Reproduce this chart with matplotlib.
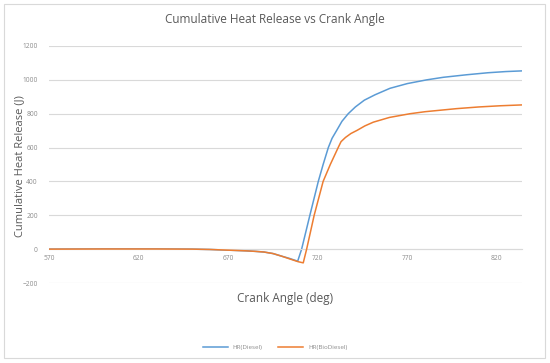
"""Cumulative heat release vs crank angle: diesel vs biodiesel."""

import matplotlib

matplotlib.use("Agg")
import matplotlib.pyplot as plt
from matplotlib.patches import Rectangle

# crank angle (deg) / cumulative heat release (J)
DIESEL_CA = [570, 600, 630, 650, 660, 670, 680, 685, 690, 695, 700, 704,
             708.8, 711, 715.6, 720.3, 723, 725.9, 728, 730.5, 733.5, 737,
             741, 746, 752, 760.3, 770, 780.8, 790, 803, 815, 825, 834]
DIESEL_HR = [0, 1, 1, 0, -2, -6, -10, -13, -17, -26, -42, -54,
             -71, 0, 200, 400, 500, 600, 655, 700, 755, 800,
             840, 880, 912, 950, 978, 1000, 1015, 1030, 1042, 1049, 1053]

BIO_CA = [570, 600, 630, 650, 660, 670, 680, 685, 690, 695, 700, 705,
          709, 711.9, 713.8, 718, 723, 727, 731.4, 733, 735.5, 738.5,
          742, 746.3, 751, 760, 771.5, 780, 797.5, 810, 822, 834]
BIO_HR = [0, 1, 1, 0, -2, -6, -10, -13, -17, -26, -42, -60,
          -74, -81, 0, 200, 400, 500, 600, 635, 660, 683,
          702, 728, 750, 778, 800, 812, 830, 840, 847, 852]

X_TICKS = [570, 620, 670, 720, 770, 820]
Y_TICKS = [-200, 0, 200, 400, 600, 800, 1000, 1200]

BLUE = "#5b9bd5"
ORANGE = "#ed7d31"
GRID = "#d9d9d9"
TEXT = "#595959"
TICK = "#8c8c8c"

plt.rcParams["font.family"] = ["Open Sans", "DejaVu Sans"]

fig = plt.figure(figsize=(5.5, 3.63), dpi=100)
fig.patch.set_facecolor("white")
fig.patches.append(Rectangle((4 / 550, 1 - 358 / 363), 541 / 550, 354 / 363,
                             transform=fig.transFigure, fill=False,
                             edgecolor=GRID, linewidth=0.8))

ax = fig.add_axes([49 / 550, 1 - 283 / 363, (522 - 49) / 550, (283 - 46) / 363])
ax.set_xlim(570, 834)
ax.set_ylim(-200, 1200)
ax.set_yticks(Y_TICKS)
ax.set_xticks(X_TICKS)
ax.grid(axis="y", color=GRID, linewidth=0.8)
ax.set_axisbelow(True)
for name in ("top", "right", "left"):
    ax.spines[name].set_visible(False)
ax.spines["bottom"].set_position(("data", 0))
ax.spines["bottom"].set_color(GRID)
ax.spines["bottom"].set_linewidth(0.8)
ax.tick_params(length=0, labelsize=4.8, labelcolor=TICK)
ax.tick_params(axis="x", pad=4)
ax.tick_params(axis="y", pad=8)

ax.plot(DIESEL_CA, DIESEL_HR, color=BLUE, linewidth=1.1, label="HR(Diesel)", zorder=2)
ax.plot(BIO_CA, BIO_HR, color=ORANGE, linewidth=1.1, label="HR(BioDiesel)", zorder=3)

fig.text(20 / 550, 1 - 166 / 363, "Cumulative Heat Release (J)", rotation=90,
         ha="center", va="center", color=TEXT, fontsize=8)
ax.text(0.5, -0.04, "Crank Angle (deg)", transform=ax.transAxes, ha="center",
        va="top", color=TEXT, fontsize=8.5)
fig.text(0.5, 1 - 19 / 363, "Cumulative Heat Release vs Crank Angle",
         ha="center", va="center", color=TEXT, fontsize=8.5)

leg = fig.legend(loc="center", bbox_to_anchor=(0.5, 1 - 347 / 363), ncol=2,
                 frameon=False, fontsize=4.5, handlelength=4, columnspacing=2.5)
for t in leg.get_texts():
    t.set_color(TICK)

fig.savefig("out.png", dpi=100)
